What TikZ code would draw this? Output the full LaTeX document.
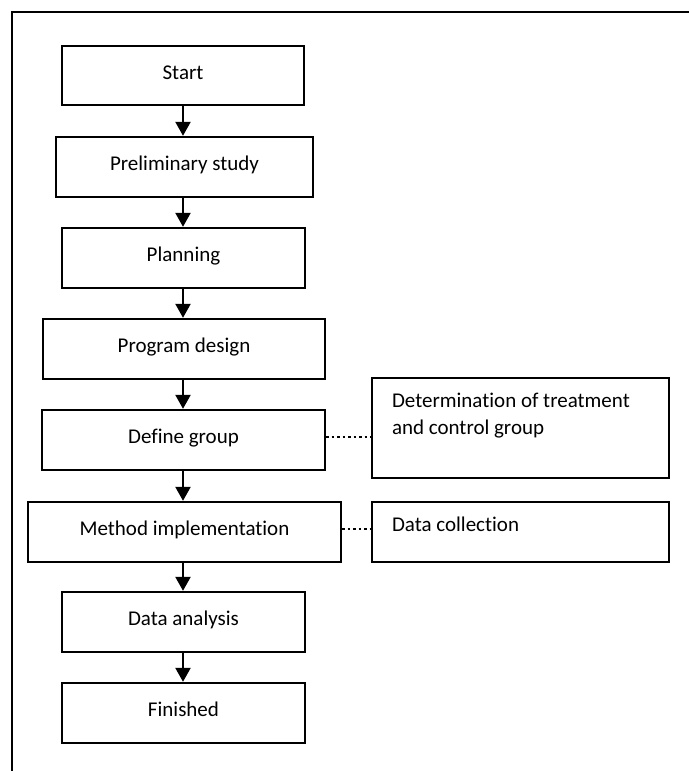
\documentclass[tikz,border=0pt]{standalone}
\usepackage{fontspec}
\setmainfont[Ligatures=NoCommon]{Carlito}
\usetikzlibrary{arrows.meta}
\tikzset{
  mainfont/.style={font=\fontsize{21}{27}\selectfont},
  box/.style={draw, line width=2.4pt, rectangle, inner sep=0pt, mainfont,
    text height=14pt, text depth=7pt},
  sidebox/.style={draw, line width=2.4pt, rectangle, inner sep=0pt},
  sidetext/.style={anchor=north west, inner sep=0pt, align=left, mainfont,
    xshift=21pt, yshift=-16pt},
  arr/.style={line width=2.4pt, -{Triangle[width=15pt,length=14pt]}},
  dots/.style={line width=2.2pt, dash pattern=on 2.5pt off 3pt},
  frame/.style={line width=2.8pt}
}
\begin{document}
\begin{tikzpicture}[x=1pt, y=-1pt]
\useasboundingbox (0,0) rectangle (689,771);
\coordinate (fbl) at (12,771);
\coordinate (ftl) at (12,12);
\coordinate (ftr) at (689,12);
\draw[frame] (fbl) -- (ftl) -- (ftr);

\node[box, minimum width=242pt, minimum height=59pt] (start) at (183,75.5) {Start};
\node[box, minimum width=257pt, minimum height=60pt] (prelim) at (184.5,167) {Preliminary study};
\node[box, minimum width=243pt, minimum height=60pt] (plan) at (183.5,258) {Planning};
\node[box, minimum width=282pt, minimum height=60pt] (prog) at (184,349) {Program design};
\node[box, minimum width=283pt, minimum height=60pt] (def) at (183.5,440) {Define group};
\node[box, minimum width=313pt, minimum height=60pt] (meth) at (184.5,532) {Method implementation};
\node[box, minimum width=243pt, minimum height=60pt] (anal) at (183.5,622) {Data analysis};
\node[box, minimum width=243pt, minimum height=60pt] (fin) at (183.5,713) {Finished};

\node[sidebox, minimum width=297pt, minimum height=100pt,
  label={[sidetext]north west:Determination of treatment\\and control group}] (det) at (520.5,428) {};
\node[sidebox, minimum width=297pt, minimum height=60pt,
  label={[sidetext]north west:Data collection}] (dc) at (520.5,532) {};

\draw[arr] (start.south) -- (start.south |- prelim.north);
\draw[arr] (start.south |- prelim.south) -- (start.south |- plan.north);
\draw[arr] (start.south |- plan.south) -- (start.south |- prog.north);
\draw[arr] (start.south |- prog.south) -- (start.south |- def.north);
\draw[arr] (start.south |- def.south) -- (start.south |- meth.north);
\draw[arr] (start.south |- meth.south) -- (start.south |- anal.north);
\draw[arr] (start.south |- anal.south) -- (start.south |- fin.north);

\draw[dots] ([yshift=3pt]def.east) -- ([yshift=3pt]def.east -| det.west);
\draw[dots] ([yshift=3pt]meth.east) -- ([yshift=3pt]meth.east -| dc.west);
\end{tikzpicture}
\end{document}
